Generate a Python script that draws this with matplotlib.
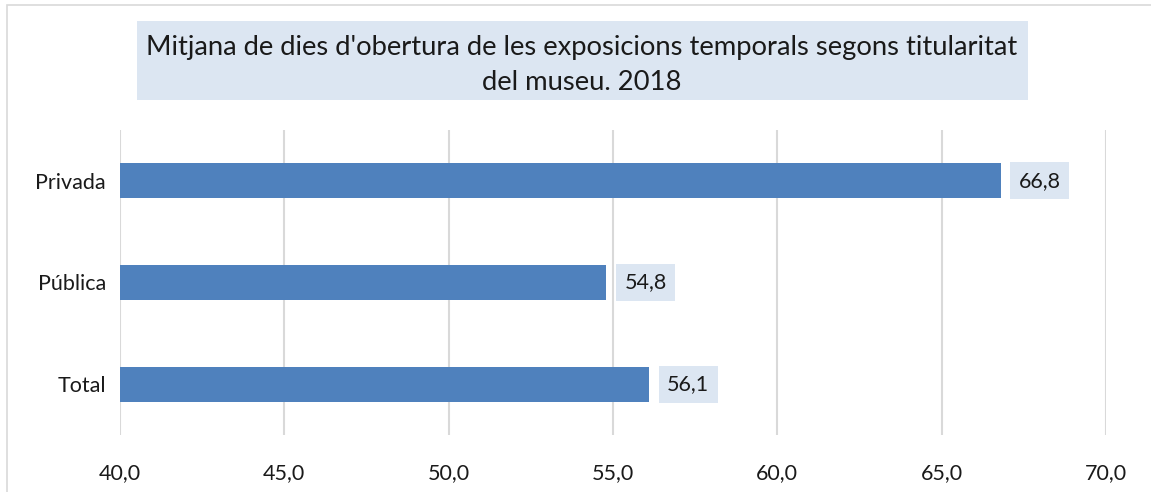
import matplotlib.pyplot as plt
from matplotlib.patches import Rectangle

categories = ['Total', 'Pública', 'Privada']
values = [56.1, 54.8, 66.8]
xticks = [40, 45, 50, 55, 60, 65, 70]

plt.rcParams['font.family'] = ['Lato', 'DejaVu Sans']

fig = plt.figure(figsize=(11.51, 4.92), dpi=100)
ax = fig.add_axes([120 / 1151, 1 - 435 / 492, 986 / 1151, 305 / 492])

ax.barh(range(len(categories)), [v - 40 for v in values], left=40, height=0.345,
        color='#4F81BD', zorder=3)
for i, v in enumerate(values):
    ax.annotate(f'{v:.1f}'.replace('.', ','), (v, i), xytext=(13, 0),
                textcoords='offset points', va='center', ha='left',
                fontsize=15.5, color='#1a1a1a', zorder=4,
                bbox=dict(boxstyle='square,pad=0.4', fc='#DCE6F2', ec='none'))

ax.set_xlim(40, 70)
ax.set_ylim(-0.5, 2.5)
ax.set_xticks(xticks)
ax.set_xticklabels([f'{t:.1f}'.replace('.', ',') for t in xticks], fontsize=15.5, color='#1a1a1a')
ax.set_yticks(range(len(categories)))
ax.set_yticklabels(categories, fontsize=15.5, color='#1a1a1a')
ax.tick_params(length=0, pad=10)
ax.tick_params(axis='x', pad=20)
ax.grid(axis='x', color='#D9D9D9', linewidth=1.5, zorder=0)
for s in ax.spines.values():
    s.set_visible(False)

# title box
fig.patches.append(Rectangle((137 / 1151, 1 - 100 / 492), 891 / 1151, 79 / 492,
                             transform=fig.transFigure, fc='#DCE6F2', ec='none'))
fig.text(582 / 1151, 1 - 65 / 492,
         "Mitjana de dies d'obertura de les exposicions temporals segons titularitat\ndel museu. 2018",
         ha='center', va='center', fontsize=19.7, color='#1a1a1a', linespacing=1.45)

# outer border
fig.patches.append(Rectangle((7 / 1151, -0.01), 1150 / 1151, 1 - 5 / 492 + 0.01,
                             transform=fig.transFigure, fc='none', ec='#D9D9D9', lw=1.2))

fig.savefig('out.png', dpi=100)
